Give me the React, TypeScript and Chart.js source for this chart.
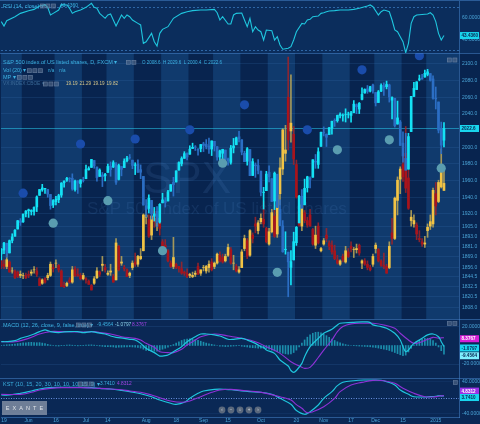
import React, { useEffect, useRef } from "react";
import { Chart, registerables } from "chart.js";

Chart.register(...registerables);

const FONT = "'Liberation Sans', Arial, sans-serif";
const PAGE_BG = "#0a2754";
const MAIN_BG = "#08244f";
const BAND_LIGHT = "#103a6d";
const RSI_BG = "#0b2d5c";
const SUB_BG = "#0a2855";
const TICK = "#4aa3d6";
const LEG = "#3cb2e2";
const SEP = "rgba(70,130,200,0.55)";
const GRID = "rgba(70,130,200,0.16)";
const CYAN = "#1fc6de";
const PURPLE = "#8e32d6";
const AXIS_W = 21;
const X_MIN = -0.1;
const X_MAX = 167.5;

// ---------- categories: trading sessions ----------
const MONTH_NAMES = ["May", "Jun", "Jul", "Aug", "Sep", "Oct", "Nov", "Dec", "Jan"];
const MONTH_DAYS = [
  [16, 19, 20, 21, 22, 23, 27, 28, 29, 30],
  [2, 3, 4, 5, 6, 9, 10, 11, 12, 13, 16, 17, 18, 19, 20, 23, 24, 25, 26, 27, 30],
  [1, 2, 3, 7, 8, 9, 10, 11, 14, 15, 16, 17, 18, 21, 22, 23, 24, 25, 28, 29, 30, 31],
  [1, 4, 5, 6, 7, 8, 11, 12, 13, 14, 15, 18, 19, 20, 21, 22, 25, 26, 27, 28, 29],
  [2, 3, 4, 5, 8, 9, 10, 11, 12, 15, 16, 17, 18, 19, 22, 23, 24, 25, 26, 29, 30],
  [1, 2, 3, 6, 7, 8, 9, 10, 13, 14, 15, 16, 17, 20, 21, 22, 23, 24, 27, 28, 29, 30, 31],
  [3, 4, 5, 6, 7, 10, 11, 12, 13, 14, 17, 18, 19, 20, 21, 24, 25, 26, 28],
  [1, 2, 3, 4, 5, 8, 9, 10, 11, 12, 15, 16, 17, 18, 19, 22, 23, 24, 26, 29, 30, 31],
  [2, 5, 6, 7],
];
const DATES: string[] = [];
MONTH_NAMES.forEach((m, k) => MONTH_DAYS[k].forEach((d) => DATES.push(`${m} ${d}`)));

const X_TICK_DATES = ["May 19", "Jun 2", "Jun 16", "Jul 1", "Jul 14", "Aug 1", "Aug 18", "Sep 2", "Sep 15", "Oct 1", "Oct 20", "Nov 3", "Nov 17", "Dec 1", "Dec 15", "Jan 2"];
const X_TICK_LABELS = ["19", "Jun", "16", "Jul", "14", "Aug", "18", "Sep", "15", "Oct", "20", "Nov", "17", "Dec", "15", "2015"];

// light background bands (session index ranges)
const LIGHT_BANDS = [[-0.5, 7.5], [19.5, 29.5], [38.5, 48.5], [58.5, 68.5], [77.5, 87.5], [97.5, 107.5], [117.5, 127.5], [136.5, 146.5], [155.5, 167.5]];

// ---------- S&P 500 (FXCM) ----------
const SPX_O = [
  1872.0, 1876.7, 1884.9, 1873.3, 1888.2, 1893.3, 1902.0, 1911.8, 1910.6, 1920.3,
  1923.9, 1923.1, 1923.1, 1928.5, 1942.4, 1948.9, 1950.3, 1949.4, 1943.4, 1930.8,
  1934.8, 1937.2, 1942.7, 1957.5, 1960.5, 1962.9, 1962.8, 1949.3, 1959.9, 1956.6,
  1960.8, 1962.3, 1973.1, 1975.9, 1984.2, 1976.4, 1965.1, 1966.7, 1965.8, 1969.9,
  1977.4, 1976.4, 1979.8, 1961.5, 1976.9, 1975.7, 1984.0, 1988.1, 1984.6, 1978.3,
  1980.0, 1973.2, 1965.1, 1929.8, 1926.6, 1936.3, 1917.3, 1923.0, 1910.4, 1933.4,
  1935.7, 1935.6, 1947.4, 1958.0, 1958.4, 1972.7, 1980.5, 1986.8, 1992.6, 1991.7,
  1998.6, 2000.5, 1997.4, 1998.5, 2004.1, 2003.6, 2001.7, 1998.0, 2007.2, 2000.7,
  1988.4, 1992.9, 1996.7, 1986.0, 1981.9, 1999.3, 2003.1, 2012.7, 2009.1, 1992.8,
  1983.3, 1997.3, 1966.2, 1978.9, 1978.2, 1971.4, 1945.8, 1948.0, 1970.0, 1962.4,
  1935.6, 1967.7, 1925.6, 1905.7, 1877.1, 1874.2, 1855.9, 1864.9, 1885.6, 1909.4,
  1941.3, 1931.0, 1951.6, 1963.0, 1964.1, 1983.3, 1979.5, 2001.2, 2018.2, 2015.8,
  2015.3, 2023.3, 2032.4, 2032.0, 2038.2, 2037.8, 2039.2, 2039.7, 2038.3, 2041.5,
  2051.2, 2045.9, 2057.5, 2065.1, 2070.2, 2067.4, 2074.8, 2065.8, 2053.8, 2067.5,
  2073.6, 2072.8, 2074.8, 2056.6, 2058.9, 2027.9, 2030.4, 2005.0, 1986.7, 1973.8,
  2018.9, 2061.0, 2069.3, 2081.5, 2083.3, 2084.3, 2087.6, 2088.5, 2082.1, 2058.9,
  2054.4, 2022.2, 2008.6,
];
const SPX_H = [
  1878.5, 1886.0, 1884.9, 1888.8, 1896.3, 1901.3, 1912.3, 1914.5, 1920.0, 1924.0,
  1925.9, 1925.1, 1928.6, 1941.7, 1949.4, 1955.6, 1950.9, 1949.4, 1943.4, 1937.3,
  1941.2, 1943.7, 1957.7, 1959.9, 1963.9, 1963.7, 1968.2, 1960.8, 1959.9, 1961.0,
  1964.2, 1978.6, 1976.7, 1985.6, 1984.2, 1976.4, 1974.2, 1969.8, 1968.7, 1979.9,
  1982.5, 1983.9, 1981.8, 1979.9, 1976.9, 1986.2, 1989.2, 1991.4, 1984.6, 1981.5,
  1984.9, 1978.9, 1965.1, 1937.4, 1942.9, 1936.3, 1927.9, 1928.9, 1932.4, 1944.9,
  1939.7, 1948.4, 1955.2, 1964.0, 1971.9, 1982.6, 1988.6, 1994.8, 1993.5, 2001.9,
  2005.0, 2002.1, 1998.6, 2003.4, 2006.1, 2009.3, 2011.2, 2007.7, 2007.2, 2001.0,
  1996.7, 1997.7, 1996.7, 1987.2, 2002.3, 2010.7, 2012.3, 2019.3, 2009.1, 1995.4,
  1999.8, 1997.3, 1986.4, 1981.3, 1985.2, 1971.4, 1952.0, 1971.2, 1977.8, 1962.4,
  1970.4, 1967.7, 1936.9, 1912.1, 1898.7, 1874.2, 1876.0, 1898.2, 1905.0, 1942.5,
  1949.3, 1961.9, 1965.3, 1964.6, 1985.1, 1991.4, 1999.4, 2018.2, 2024.5, 2016.0,
  2023.8, 2031.6, 2034.3, 2038.7, 2041.3, 2040.3, 2046.2, 2042.2, 2043.1, 2056.1,
  2052.1, 2053.8, 2071.5, 2070.2, 2074.2, 2073.3, 2075.8, 2065.8, 2068.2, 2076.3,
  2077.3, 2079.5, 2075.8, 2060.6, 2058.9, 2055.5, 2032.2, 2018.7, 2016.9, 2016.8,
  2061.2, 2077.9, 2078.8, 2086.7, 2087.6, 2092.7, 2093.6, 2088.5, 2085.7, 2072.4,
  2054.4, 2030.3, 2029.6,
];
const SPX_L = [
  1864.8, 1872.4, 1868.1, 1873.3, 1885.4, 1893.3, 1902.0, 1906.3, 1909.8, 1916.6,
  1915.9, 1918.8, 1918.6, 1922.9, 1942.4, 1947.2, 1944.6, 1940.1, 1925.8, 1927.7,
  1930.9, 1933.6, 1940.0, 1952.3, 1959.2, 1958.4, 1948.5, 1947.5, 1944.7, 1952.2,
  1958.3, 1962.3, 1972.6, 1975.9, 1974.9, 1959.5, 1965.1, 1952.9, 1959.6, 1969.9,
  1965.3, 1975.7, 1955.6, 1960.8, 1965.8, 1975.7, 1982.4, 1985.8, 1974.4, 1967.3,
  1969.9, 1962.4, 1930.7, 1916.4, 1921.2, 1913.8, 1911.5, 1904.8, 1909.0, 1933.4,
  1928.3, 1935.6, 1947.4, 1941.5, 1958.4, 1972.7, 1977.7, 1986.8, 1984.8, 1991.7,
  1998.6, 1996.2, 1990.5, 1994.6, 1994.9, 1998.1, 1992.8, 1990.1, 1995.6, 1984.6,
  1982.9, 1985.9, 1980.3, 1978.5, 1979.8, 1993.3, 2003.1, 2006.6, 1991.0, 1982.8,
  1978.6, 1965.9, 1966.2, 1964.0, 1968.0, 1941.7, 1926.0, 1948.0, 1958.4, 1935.1,
  1925.3, 1927.6, 1906.1, 1874.1, 1871.8, 1820.7, 1835.0, 1864.9, 1882.3, 1909.4,
  1927.1, 1931.0, 1946.3, 1951.4, 1964.1, 1974.8, 1974.8, 2001.2, 2013.7, 2001.0,
  2015.3, 2015.9, 2025.1, 2030.2, 2035.3, 2031.3, 2030.4, 2035.2, 2030.2, 2041.5,
  2040.4, 2040.5, 2056.8, 2065.1, 2064.8, 2066.4, 2065.1, 2049.6, 2053.8, 2066.7,
  2062.3, 2070.1, 2054.3, 2034.2, 2024.3, 2027.9, 2002.3, 1982.3, 1972.6, 1973.8,
  2018.9, 2061.0, 2069.3, 2079.8, 2081.9, 2084.3, 2085.8, 2079.5, 2057.9, 2046.0,
  2017.3, 1992.4, 2000.4,
];
const SPX_C = [
  1877.9, 1885.1, 1872.8, 1888.0, 1892.5, 1900.5, 1911.9, 1909.8, 1920.0, 1923.6,
  1925.0, 1924.2, 1927.9, 1940.5, 1949.4, 1951.3, 1950.8, 1943.9, 1930.1, 1936.2,
  1937.8, 1942.0, 1957.0, 1959.5, 1962.9, 1962.6, 1950.0, 1959.5, 1957.2, 1961.0,
  1960.2, 1973.3, 1974.6, 1985.4, 1977.7, 1963.7, 1972.8, 1964.7, 1967.6, 1977.1,
  1973.3, 1981.6, 1958.1, 1978.2, 1973.6, 1983.5, 1987.0, 1988.0, 1978.3, 1978.9,
  1970.0, 1970.1, 1930.7, 1925.2, 1939.0, 1920.2, 1920.2, 1909.6, 1931.6, 1936.9,
  1933.8, 1946.7, 1955.2, 1955.1, 1971.7, 1981.6, 1986.5, 1992.4, 1988.4, 1997.9,
  2000.0, 2000.1, 1996.7, 2003.4, 2002.3, 2000.7, 1997.7, 2007.7, 2001.5, 1988.4,
  1995.7, 1997.5, 1985.5, 1984.1, 1999.0, 2001.6, 2011.4, 2010.4, 1994.3, 1982.8,
  1998.3, 1966.0, 1982.9, 1977.8, 1972.3, 1946.2, 1946.2, 1967.9, 1964.8, 1935.1,
  1968.9, 1928.2, 1906.1, 1874.7, 1877.7, 1862.5, 1862.8, 1886.8, 1904.0, 1941.3,
  1927.1, 1950.8, 1964.6, 1961.6, 1985.1, 1982.3, 1994.7, 2018.1, 2017.8, 2012.1,
  2023.6, 2031.2, 2031.9, 2038.3, 2039.7, 2038.3, 2039.3, 2039.8, 2041.3, 2051.8,
  2048.7, 2052.8, 2063.5, 2069.4, 2067.0, 2072.8, 2067.6, 2053.4, 2066.6, 2074.3,
  2071.9, 2075.4, 2060.3, 2059.8, 2026.1, 2035.3, 2002.3, 1989.6, 1972.7, 2012.9,
  2061.2, 2070.7, 2078.5, 2082.2, 2081.9, 2088.8, 2090.6, 2080.4, 2058.9, 2058.2,
  2020.6, 2002.6, 2022.6,
];

// ---------- VX (CBOE) overlay ----------
const VIX_O = [
  12.9, 12.6, 12.4, 12.8, 12.0, 12.0, 11.9, 11.6, 11.6, 11.6,
  11.7, 11.8, 12.1, 12.0, 11.3, 10.9, 11.3, 11.4, 11.6, 12.3,
  12.7, 12.5, 12.0, 10.7, 10.7, 11.2, 11.0, 12.2, 11.7, 11.6,
  11.3, 11.3, 11.1, 10.7, 10.9, 11.4, 11.9, 12.5, 12.3, 11.7,
  11.9, 11.5, 11.2, 14.2, 12.7, 12.3, 12.1, 11.6, 12.3, 12.8,
  12.6, 13.1, 13.8, 16.8, 16.6, 15.2, 17.3, 16.0, 16.7, 14.6,
  14.3, 13.8, 12.7, 12.4, 12.6, 12.4, 12.2, 11.9, 11.8, 11.6,
  11.5, 11.7, 12.4, 11.8, 12.3, 12.0, 12.3, 12.8, 12.4, 12.7,
  13.4, 13.2, 12.9, 13.4, 13.9, 12.7, 12.4, 11.9, 12.3, 14.0,
  14.7, 13.4, 15.2, 16.2, 15.6, 16.4, 16.6, 15.8, 14.4, 15.5,
  16.9, 15.3, 18.9, 21.1, 22.5, 27.5, 24.5, 24.2, 21.5, 17.3,
  16.0, 17.2, 16.5, 17.0, 15.7, 14.3, 16.0, 13.8, 14.4, 15.2,
  14.5, 14.3, 13.8, 13.0, 12.6, 13.3, 12.8, 13.7, 14.2, 13.9,
  13.9, 14.3, 12.7, 12.9, 12.6, 12.3, 12.6, 14.0, 13.9, 12.9,
  12.5, 12.4, 12.3, 15.4, 14.9, 18.3, 20.2, 21.5, 22.5, 20.3,
  16.5, 16.2, 16.1, 14.9, 14.6, 14.4, 15.6, 16.0, 16.2, 18.9,
  18.2, 19.5, 19.19,
];
const VIX_H = [
  13.2, 13.0, 13.5, 12.9, 12.3, 12.1, 12.0, 12.0, 11.8, 11.8,
  12.0, 12.1, 12.4, 12.3, 11.4, 11.3, 11.4, 11.8, 12.8, 12.6,
  13.0, 12.6, 12.1, 11.0, 11.0, 11.4, 12.4, 12.4, 12.2, 11.8,
  11.8, 11.4, 11.2, 10.8, 11.5, 12.3, 12.0, 13.3, 12.6, 12.0,
  12.6, 11.7, 14.9, 14.3, 13.3, 12.5, 12.2, 11.9, 12.9, 13.6,
  13.4, 14.0, 17.1, 17.6, 17.0, 17.0, 17.5, 17.3, 16.8, 14.8,
  14.8, 13.9, 12.9, 15.0, 12.7, 12.4, 12.8, 12.0, 12.2, 11.8,
  11.9, 12.0, 12.7, 12.1, 12.5, 12.5, 12.9, 13.1, 12.8, 13.6,
  13.7, 13.5, 13.5, 14.4, 14.1, 13.4, 12.6, 12.4, 13.9, 15.2,
  14.9, 15.7, 15.4, 16.8, 16.5, 17.1, 18.2, 15.9, 15.8, 17.5,
  17.9, 18.9, 22.1, 24.7, 25.0, 31.1, 29.5, 24.9, 21.9, 17.9,
  18.0, 17.4, 16.8, 17.5, 15.8, 16.0, 16.3, 14.1, 14.9, 15.8,
  14.7, 14.7, 14.3, 13.4, 13.0, 13.5, 14.2, 14.0, 14.6, 14.1,
  14.4, 14.4, 13.0, 13.1, 12.9, 12.5, 13.5, 14.5, 14.0, 13.0,
  13.6, 12.6, 14.6, 16.7, 18.6, 20.4, 21.3, 23.0, 24.9, 21.0,
  17.4, 17.0, 16.3, 15.6, 14.9, 15.1, 16.2, 17.0, 19.4, 19.9,
  20.1, 22.9, 21.29,
];
const VIX_L = [
  12.2, 12.2, 12.2, 11.9, 11.8, 11.3, 11.4, 11.4, 11.3, 11.3,
  11.4, 11.6, 11.8, 11.5, 10.7, 10.8, 10.9, 11.2, 11.5, 11.9,
  12.3, 11.9, 10.6, 10.5, 10.6, 10.9, 10.9, 11.5, 11.5, 11.2,
  11.2, 10.9, 10.8, 10.3, 10.8, 11.3, 11.5, 12.0, 11.9, 11.6,
  11.6, 11.0, 11.2, 12.0, 12.5, 12.0, 11.5, 11.4, 12.1, 12.4,
  12.4, 13.0, 13.8, 16.2, 15.0, 14.8, 15.9, 15.6, 15.2, 14.1,
  13.9, 12.8, 12.3, 12.2, 12.2, 11.9, 11.7, 11.6, 11.4, 11.4,
  11.4, 11.5, 11.7, 11.6, 12.0, 11.8, 11.9, 12.0, 12.2, 12.6,
  12.8, 12.7, 12.8, 13.3, 12.6, 12.1, 11.9, 11.8, 12.3, 13.8,
  13.1, 13.3, 14.5, 15.4, 15.3, 16.2, 15.9, 14.5, 14.3, 15.4,
  15.0, 15.0, 17.9, 20.6, 21.8, 22.8, 23.5, 21.5, 18.5, 16.0,
  15.6, 16.3, 15.9, 16.0, 14.3, 14.0, 14.4, 13.7, 14.3, 14.6,
  13.9, 13.5, 13.0, 12.6, 12.5, 12.8, 12.7, 13.2, 13.7, 13.2,
  13.6, 13.4, 12.2, 12.5, 12.1, 12.0, 12.4, 13.6, 12.8, 12.4,
  12.2, 11.8, 12.2, 14.4, 14.8, 17.0, 18.9, 20.0, 19.0, 17.5,
  16.0, 15.9, 14.8, 14.6, 14.2, 14.1, 15.0, 15.7, 15.9, 17.0,
  18.1, 19.4, 19.19,
];
const VIX_C = [
  12.4, 12.4, 13.0, 11.9, 12.0, 11.4, 11.5, 11.7, 11.6, 11.4,
  11.6, 11.9, 12.1, 11.7, 10.7, 11.2, 11.0, 11.6, 12.6, 12.2,
  12.7, 12.1, 10.6, 10.6, 10.9, 11.0, 12.1, 11.6, 11.6, 11.3,
  11.6, 11.2, 10.8, 10.3, 11.3, 12.0, 11.7, 12.6, 12.1, 11.8,
  12.0, 11.0, 14.5, 12.1, 12.8, 12.2, 11.5, 11.8, 12.7, 12.6,
  13.3, 13.3, 17.0, 17.0, 15.1, 16.9, 16.4, 16.7, 15.8, 14.2,
  14.1, 12.9, 12.4, 13.2, 12.3, 12.2, 11.8, 11.8, 11.5, 11.7,
  11.6, 11.8, 11.7, 12.1, 12.3, 12.4, 12.6, 12.1, 12.7, 13.5,
  12.9, 12.8, 13.3, 14.1, 12.7, 12.7, 12.0, 12.1, 13.7, 14.9,
  13.3, 15.6, 14.9, 16.0, 16.3, 16.7, 16.2, 14.6, 15.5, 17.2,
  15.1, 18.8, 21.2, 24.6, 22.8, 23.7, 25.2, 22.0, 18.6, 16.1,
  17.9, 16.5, 16.1, 16.0, 14.4, 15.2, 14.5, 14.0, 14.7, 14.9,
  14.2, 13.7, 13.1, 12.7, 12.9, 13.0, 13.8, 13.3, 14.0, 13.9,
  14.0, 13.6, 12.9, 12.6, 12.3, 12.1, 13.3, 14.3, 12.9, 12.5,
  12.4, 11.8, 14.2, 14.9, 18.5, 20.1, 21.1, 20.4, 19.4, 17.6,
  16.8, 16.5, 15.3, 14.8, 14.4, 14.5, 15.9, 16.4, 19.2, 17.8,
  19.9, 21.1, 19.82,
];

// MP markers
const MP_HIGH_IDX = [8, 29, 49, 69, 89, 112, 132, 153];
const MP_HIGH_VAL = [1945, 2004, 2010, 2021, 2051, 2021, 2093, 2110];
const MP_LOW_IDX = [19, 39, 59, 81, 101, 123, 142, 161];
const MP_LOW_VAL = [1909, 1936, 1876, 1981, 1850, 1997, 2009, 1975];

const MAIN_TICKS = [2100, 2080, 2060, 2040, 2000, 1980, 1960, 1940, 1920, 1905, 1893, 1881, 1869, 1856, 1844.5, 1832.5, 1820.5, 1808];

// ---------- RSI (14, close) ----------
const RSI_X = [0, 1, 2, 5, 7, 10, 12, 14, 16, 17, 18, 19, 21, 22, 24, 25, 26, 27, 29, 31, 33, 34, 35, 36, 38, 39, 40, 41, 42, 44, 45, 46, 47, 48, 50, 51, 52, 53, 55, 56, 57, 58, 59, 61, 63, 66, 68, 70, 73, 75, 78, 79, 80, 81, 83, 84, 85, 86, 88, 89, 90, 91, 92, 93, 94, 95, 96, 97, 99, 100, 101, 102, 103, 105, 106, 107, 108, 110, 111, 112, 113, 114, 116, 117, 118, 119, 120, 122, 124, 127, 129, 131, 134, 135, 136, 138, 139, 140, 141, 142, 143, 144, 145, 146, 147, 148, 149, 150, 151, 152, 156, 157, 158, 159, 160, 161, 162];
const RSI_V = [56.4, 52.3, 57.3, 61.0, 64.1, 66.6, 67.8, 70.9, 72.2, 69.7, 62.6, 64.1, 67.2, 72.2, 71.9, 68.8, 64.1, 65.6, 67.2, 69.7, 73.4, 69.7, 68.8, 64.1, 59.5, 62.6, 63.5, 57.9, 52.3, 62.6, 59.5, 62.6, 61.0, 57.9, 54.8, 53.3, 36.2, 37.7, 45.5, 37.7, 33.7, 45.5, 49.2, 51.7, 59.5, 64.1, 65.6, 66.6, 67.2, 67.2, 67.8, 64.7, 57.9, 61.0, 54.2, 54.2, 62.6, 64.1, 64.4, 57.9, 51.7, 59.5, 47.0, 51.7, 48.6, 47.0, 39.3, 48.6, 48.0, 39.3, 42.4, 34.7, 30.7, 31.6, 33.1, 39.3, 47.0, 54.8, 54.2, 57.9, 58.5, 61.0, 61.6, 64.1, 64.7, 65.6, 66.3, 66.6, 67.2, 67.2, 67.8, 68.8, 70.9, 71.9, 70.3, 62.6, 65.6, 67.2, 66.6, 65.6, 57.9, 48.6, 47.0, 42.4, 37.7, 27.5, 36.2, 54.8, 61.0, 62.6, 63.5, 64.7, 62.6, 56.4, 45.5, 39.3, 43.436];
const RSI_TICKS = [60, 40];

// ---------- MACD (12, 26, close, 9) ----------
const MACD_X = [0, 2, 5, 7, 10, 12, 14, 16, 17, 18, 21, 23, 25, 28, 30, 33, 35, 38, 40, 42, 45, 47, 49, 51, 53, 56, 58, 60, 61, 63, 66, 68, 71, 73, 75, 78, 80, 83, 85, 88, 90, 93, 95, 96, 97, 100, 102, 105, 106, 107, 108, 110, 111, 113, 116, 118, 121, 123, 124, 127, 129, 132, 134, 135, 136, 139, 141, 144, 146, 147, 148, 149, 150, 151, 154, 156, 158, 160, 161, 162];
const MACD_V = [4.1, 4.1, 5.2, 7.7, 10.3, 12.4, 15.0, 16.8, 16.0, 15.0, 13.9, 14.6, 15.0, 15.0, 13.9, 15.0, 13.9, 12.4, 10.3, 8.8, 7.7, 6.7, 5.9, 2.3, -3.1, -7.7, -11.4, -11.0, -10.3, -6.7, -1.3, 4.1, 9.5, 12.4, 12.4, 11.4, 10.3, 6.7, 6.7, 7.7, 5.9, 2.3, -1.3, -2.0, -4.9, -8.5, -15.7, -22.2, -27.0, -29.0, -27.0, -19.3, -12.1, -1.3, 7.7, 13.2, 17.5, 22.2, 24.0, 24.7, 25.0, 25.4, 25.4, 24.7, 22.2, 20.4, 18.6, 13.2, 5.9, -1.3, -6.7, -4.9, -1.0, 2.3, 7.7, 11.4, 12.4, 9.5, 4.1, -1.0797];
const SIG_X = [0, 5, 10, 14, 18, 22, 27, 32, 34, 36, 40, 44, 49, 51, 53, 56, 58, 61, 63, 66, 68, 71, 73, 78, 83, 88, 93, 97, 102, 106, 110, 111, 113, 116, 118, 121, 123, 125, 128, 132, 136, 140, 144, 146, 149, 151, 154, 156, 158, 160, 161, 162];
const SIG_V = [4.1, 4.1, 7.7, 12.4, 15.0, 15.0, 14.6, 14.6, 15.0, 13.9, 12.4, 9.5, 7.7, 5.9, 2.3, -2.0, -6.7, -7.7, -7.7, -4.1, 0.5, 5.9, 9.5, 12.4, 10.3, 7.7, 4.1, -1.3, -8.5, -17.5, -23.6, -24.7, -23.6, -13.0, -5.0, 5.9, 15.0, 20.4, 23.3, 24.0, 24.0, 22.2, 18.6, 13.2, 5.9, 2.3, 4.1, 6.7, 8.8, 8.0, 8.2, 8.3767];
const HIST = [
  0.3, 0.5, 0.8, 1.0, 1.2,
  1.6, 2.0, 2.4, 2.8, 3.0, 3.3, 3.4, 3.2, 3.0, 3.1, 2.6, 2.0, 1.2, 0.5,
  0.0, -0.4, -0.6, -0.2, 0.2, 0.4, 0.6, 0.3, -0.2, -0.4, -0.2, 0.2,
  0.5, 0.6, 0.7, 0.4, -0.1, -0.5, -0.9, -1.2, -1.2, -1.4,
  -1.6, -2.0, -1.8, -1.8, -1.6, -1.6, -1.4, -1.6, -1.8, -2.0,
  -2.8, -4.0, -5.2, -5.6, -6.0, -6.2, -6.0, -5.0,
  -4.0, -3.0, -1.8, -0.5,
  1.0, 2.6, 4.0, 5.4, 6.4, 7.0, 7.2, 7.0, 6.4, 5.6,
  4.6, 3.6, 2.6, 1.8, 1.2, 0.6, 0.0, -0.6, -0.8, -1.2, -1.0, -0.8, -0.6, -0.4, -0.2,
  -0.8, -1.2, -1.6, -2.2, -2.4, -2.6, -2.8, -3.0, -3.2, -3.4, -4.0, -5.0,
  -5.8, -6.8, -7.6, -8.4, -9.0, -9.4, -9.0, -7.6, -5.0, -1.6,
  2.6, 6.0, 9.0, 11.6, 13.2, 14.2, 14.4, 13.6, 12.2, 10.6, 8.8, 7.0,
  5.4, 4.0, 2.8, 1.8, 1.0, 0.4, 0.0, -0.2, -0.4, -0.6, -0.8,
  -1.0, -1.2, -1.4, -1.8, -2.2, -2.8, -3.4, -4.0, -4.6, -5.4, -6.4, -7.6, -8.8, -10.0, -11.0, -10.4, -7.0,
  -3.0, 0.8, 3.6, 5.6, 6.8, 7.6, 7.8, 7.0, 5.4, 2.6, -1.6, -5.6, -9.4564,
];
const MACD_TICKS = [20, -20];

// ---------- KST ----------
const KST_X = [0, 3, 7, 11, 14, 18, 22, 25, 29, 33, 36, 40, 44, 47, 51, 55, 58, 62, 64, 67, 69, 72, 74, 78, 82, 85, 88, 91, 95, 99, 102, 106, 108, 111, 113, 116, 118, 121, 123, 125, 129, 133, 136, 139, 141, 144, 146, 149, 151, 155, 157, 159, 160, 161, 162];
const KST_V = [6.3, 6.3, 10.5, 16.5, 21.5, 24.9, 25.7, 25.7, 25.7, 24.9, 23.2, 21.5, 18.1, 14.8, 9.7, 2.1, -6.3, -14.8, -17.3, -12.2, -2.1, 10.5, 16.5, 20.7, 20.7, 19.0, 16.5, 14.8, 13.1, 8.0, -2.1, -17.0, -33.0, -42.6, -35.9, -19.0, -2.1, 14.8, 29.9, 38.4, 42.6, 44.3, 44.3, 43.5, 40.1, 31.6, 19.0, 8.0, 2.1, 1.3, 2.1, 3.2, 4.6, 4.0, 3.741];
const KSIG_X = [0, 7, 11, 14, 18, 22, 29, 33, 36, 40, 44, 47, 51, 55, 58, 62, 66, 69, 73, 77, 80, 84, 88, 93, 97, 102, 106, 108, 110, 112, 114, 118, 122, 124, 128, 132, 136, 140, 144, 147, 151, 155, 158, 160, 161, 162];
const KSIG_V = [8.0, 8.0, 13.1, 19.0, 23.2, 24.9, 24.9, 24.1, 23.2, 21.5, 19.8, 16.5, 13.1, 6.3, -0.4, -8.9, -12.2, -8.9, 2.1, 13.1, 19.0, 20.7, 18.1, 14.8, 10.5, 2.1, -6.3, -18.0, -27.4, -38.4, -35.9, -23.2, -2.1, 14.8, 31.6, 38.4, 43.5, 42.6, 35.9, 23.2, 10.5, 2.1, 1.3, 3.0, 4.2, 4.8312];
const KST_TICKS = [40, -40];

// ---------- helpers ----------
const IDX = DATES.map((_, i) => i);
const LAST = DATES.length - 1;
const pts = (xs: number[], ys: number[]) => xs.map((x, i) => ({ x, y: ys[i] }));

function icons(ctx: any, x: number, y: number, n: number) {
  for (let k = 0; k < n; k++) {
    const xx = x + k * 5.6;
    ctx.fillStyle = "rgba(95,115,145,0.55)";
    ctx.fillRect(xx, y - 2.3, 4.6, 4.6);
    ctx.strokeStyle = "rgba(150,170,200,0.45)";
    ctx.lineWidth = 0.6;
    ctx.strokeRect(xx + 0.3, y - 2, 4, 4);
  }
}
function box(ctx: any, y: number, text: string, bg: string, fg: string) {
  ctx.fillStyle = bg;
  ctx.fillRect(460, y - 3.5, 19, 7);
  ctx.fillStyle = fg;
  ctx.font = `bold 4.6px ${FONT}`;
  ctx.textAlign = "left";
  ctx.textBaseline = "middle";
  ctx.fillText(text, 461.5, y + 0.3);
}
function text(ctx: any, s: string, x: number, y: number, color: string, size = 5.5) {
  ctx.font = `${size}px ${FONT}`;
  ctx.fillStyle = color;
  ctx.textAlign = "left";
  ctx.textBaseline = "middle";
  ctx.fillText(s, x, y);
}

function yAxis(min: number, max: number, ticks: number[], fmt: (v: number) => string, grid: string) {
  return {
    position: "right",
    min,
    max,
    afterFit: (s: any) => {
      s.width = AXIS_W;
      s.paddingTop = 0;
      s.paddingBottom = 0;
    },
    afterBuildTicks: (s: any) => {
      s.ticks = ticks.map((v) => ({ value: v }));
    },
    ticks: { color: TICK, font: { family: FONT, size: 5 }, padding: 3, autoSkip: false, callback: (v: any) => fmt(Number(v)) },
    grid: { color: grid, drawTicks: false, lineWidth: 1 },
    border: { display: true, color: SEP, width: 1 },
  };
}
const xHidden = { type: "linear", min: X_MIN, max: X_MAX, display: false, offset: false };
function baseOptions(scales: any, top = 0) {
  return {
    animation: false,
    responsive: false,
    maintainAspectRatio: false,
    events: [],
    layout: { autoPadding: false, padding: { left: 1, right: 0, top, bottom: 0 } },
    plugins: { legend: { display: false }, tooltip: { enabled: false } },
    scales,
  };
}
function fillBg(chart: any, color: string) {
  const ctx = chart.ctx;
  ctx.save();
  ctx.fillStyle = color;
  ctx.fillRect(0, 0, chart.width, chart.height);
  ctx.restore();
}
function topLine(chart: any) {
  const ctx = chart.ctx;
  ctx.save();
  ctx.strokeStyle = SEP;
  ctx.lineWidth = 1;
  ctx.beginPath();
  ctx.moveTo(0, 0.5);
  ctx.lineTo(chart.width, 0.5);
  ctx.stroke();
  ctx.restore();
}

// ---------- configs ----------
function rsiConfig(): any {
  return {
    type: "line",
    data: {
      datasets: [
        { data: pts(RSI_X, RSI_V), borderColor: CYAN, borderWidth: 1.1, pointRadius: 0, tension: 0, yAxisID: "y" },
      ],
    },
    options: baseOptions({ x: xHidden, y: yAxis(27.2, 75.6, RSI_TICKS, (v) => v.toFixed(4), "rgba(0,0,0,0)") }, 1),
    plugins: [
      {
        id: "rsiDeco",
        beforeDraw: (c: any) => fillBg(c, RSI_BG),
        beforeDatasetsDraw: (c: any) => {
          const { ctx, chartArea: a, scales } = c;
          ctx.save();
          ctx.strokeStyle = "rgba(70,140,215,0.6)";
          ctx.setLineDash([2, 2]);
          ctx.lineWidth = 1;
          [70, 30].forEach((v) => {
            const y = Math.round(scales.y.getPixelForValue(v)) + 0.5;
            ctx.beginPath();
            ctx.moveTo(a.left, y);
            ctx.lineTo(a.right, y);
            ctx.stroke();
          });
          ctx.restore();
        },
        afterDraw: (c: any) => {
          const ctx = c.ctx;
          ctx.save();
          topLine(c);
          const last = RSI_V[RSI_V.length - 1];
          text(ctx, "RSI (14, close) \u25BE", 3, 6, LEG);
          icons(ctx, 40, 6, 3);
          text(ctx, last.toFixed(4), 60, 6, LEG, 5);
          box(ctx, c.scales.y.getPixelForValue(last), last.toFixed(4), "#19d6ee", "#08244f");
          ctx.restore();
        },
      },
    ],
  };
}

function mainConfig(): any {
  const spxUp = IDX.map((i) => SPX_C[i] >= SPX_O[i]);
  const vixUp = IDX.map((i) => VIX_C[i] >= VIX_O[i]);
  const common = { grouped: false, borderWidth: 0, borderSkipped: false };
  return {
    type: "bar",
    data: {
      datasets: [
        { type: "scatter", data: pts(MP_HIGH_IDX, MP_HIGH_VAL), pointRadius: 4.6, backgroundColor: "#1a4cab", borderWidth: 0, yAxisID: "y", order: 0 },
        { type: "scatter", data: pts(MP_LOW_IDX, MP_LOW_VAL), pointRadius: 4.6, backgroundColor: "#5a9db0", borderWidth: 0, yAxisID: "y", order: 0 },
        { ...common, data: IDX.map((i) => ({ x: i, y: [SPX_O[i], SPX_C[i]] })), backgroundColor: IDX.map((i) => (spxUp[i] ? "#14e2f5" : "#2b6ec4")), barThickness: 2, yAxisID: "y", order: 2 },
        { ...common, data: IDX.map((i) => ({ x: i, y: [SPX_L[i], SPX_H[i]] })), backgroundColor: IDX.map((i) => (spxUp[i] ? "#14e2f5" : "#2b6ec4")), barThickness: 1, yAxisID: "y", order: 3 },
        { ...common, data: IDX.map((i) => ({ x: i, y: [VIX_O[i], VIX_C[i]] })), backgroundColor: IDX.map((i) => (vixUp[i] ? "#f2c344" : "#a8141c")), barThickness: 2, yAxisID: "yv", order: 4 },
        { ...common, data: IDX.map((i) => ({ x: i, y: [VIX_L[i], VIX_H[i]] })), backgroundColor: IDX.map((i) => (vixUp[i] ? "rgba(200,175,85,0.8)" : "rgba(160,35,40,0.85)")), barThickness: 1, yAxisID: "yv", order: 5 },
      ],
    },
    options: baseOptions({
      x: xHidden,
      y: yAxis(1794, 2113.2, MAIN_TICKS, (v) => v.toFixed(1), GRID),
      yv: { display: false, min: 7.71, max: 31.46 },
    }),
    plugins: [
      {
        id: "mainDeco",
        beforeDraw: (c: any) => {
          fillBg(c, MAIN_BG);
          const { ctx, chartArea: a, scales } = c;
          ctx.save();
          ctx.fillStyle = BAND_LIGHT;
          LIGHT_BANDS.forEach(([s, e]) => {
            const x1 = Math.max(a.left, scales.x.getPixelForValue(s));
            const x2 = Math.min(a.right, scales.x.getPixelForValue(e));
            if (x2 > x1) ctx.fillRect(x1, a.top, x2 - x1, a.bottom - a.top);
          });
          ctx.restore();
        },
        beforeDatasetsDraw: (c: any) => {
          const { ctx, chartArea: a, scales } = c;
          ctx.save();
          ctx.fillStyle = "rgba(95,155,225,0.12)";
          ctx.textAlign = "left";
          ctx.textBaseline = "alphabetic";
          ctx.font = `44px ${FONT}`;
          ctx.fillText("SPX", 143, 140);
          ctx.font = `17px ${FONT}`;
          ctx.fillText("S&P 500 index of US listed shares", 87, 161);
          const y = Math.round(scales.y.getPixelForValue(SPX_C[LAST])) + 0.5;
          ctx.strokeStyle = "rgba(40,200,235,0.55)";
          ctx.lineWidth = 1;
          ctx.beginPath();
          ctx.moveTo(a.left, y);
          ctx.lineTo(a.right, y);
          ctx.stroke();
          ctx.restore();
        },
        afterDraw: (c: any) => {
          const ctx = c.ctx;
          ctx.save();
          topLine(c);
          text(ctx, "S&P 500 index of US listed shares, D, FXCM \u25BE", 3, 9.3, LEG);
          icons(ctx, 126, 9.3, 2);
          text(ctx, `O ${SPX_O[LAST].toFixed(1)}  H ${SPX_H[LAST].toFixed(1)}  L ${SPX_L[LAST].toFixed(1)}  C ${SPX_C[LAST].toFixed(1)}`, 142, 9.3, LEG, 4.5);
          text(ctx, "Vol (20) \u25BE", 3, 17.7, LEG);
          icons(ctx, 27, 17.7, 3);
          text(ctx, "n/a    n/a", 48, 17.7, LEG, 4.5);
          text(ctx, "MP \u25BE", 3, 24.3, LEG);
          icons(ctx, 17, 24.3, 3);
          text(ctx, "VX:INDEX:CBOE \u25BE", 3, 31, "#3b6a98", 4.8);
          icons(ctx, 43, 31, 3);
          [VIX_O[LAST], VIX_H[LAST], VIX_L[LAST], VIX_C[LAST]].forEach((v, k) => text(ctx, v.toFixed(2), 66 + k * 13.5, 31, "#d9c98c", 4.6));
          icons(ctx, 447, 7, 2);
          box(ctx, c.scales.y.getPixelForValue(SPX_C[LAST]), SPX_C[LAST].toFixed(1), "#19d6ee", "#08244f");
          ctx.restore();
        },
      },
    ],
  };
}

function macdConfig(): any {
  return {
    type: "bar",
    data: {
      datasets: [
        { type: "line", data: pts(SIG_X, SIG_V), borderColor: PURPLE, borderWidth: 1.1, pointRadius: 0, tension: 0.35, yAxisID: "y", order: 1 },
        { type: "line", data: pts(MACD_X, MACD_V), borderColor: CYAN, borderWidth: 1.2, pointRadius: 0, tension: 0.35, yAxisID: "y", order: 0 },
        { data: IDX.map((i) => ({ x: i, y: HIST[i] })), backgroundColor: "rgba(35,185,210,0.7)", barThickness: 1, grouped: false, borderWidth: 0, yAxisID: "y", order: 2 },
      ],
    },
    options: baseOptions({ x: xHidden, y: yAxis(-35.1, 28.6, MACD_TICKS, (v) => v.toFixed(4), GRID) }),
    plugins: [
      {
        id: "macdDeco",
        beforeDraw: (c: any) => fillBg(c, SUB_BG),
        afterDraw: (c: any) => {
          const ctx = c.ctx;
          const ys = c.scales.y;
          ctx.save();
          topLine(c);
          const h = HIST[LAST], m = MACD_V[MACD_V.length - 1], s = SIG_V[SIG_V.length - 1];
          text(ctx, "MACD (12, 26, close, 9, false, true) \u25BE", 3, 6, LEG);
          icons(ctx, 76, 6, 3);
          text(ctx, h.toFixed(4), 97, 6, LEG, 4.8);
          text(ctx, m.toFixed(4), 115, 6, "#8fd6ee", 4.8);
          text(ctx, s.toFixed(4), 132, 6, "#a445e6", 4.8);
          icons(ctx, 447, 4.5, 2);
          box(ctx, ys.getPixelForValue(s) + 1, s.toFixed(4), "#d61fd6", "#ffffff");
          box(ctx, ys.getPixelForValue(m) + 1.5, m.toFixed(4), "#19d6ee", "#08244f");
          box(ctx, ys.getPixelForValue(h) + 1.5, h.toFixed(4), "#7ff0ff", "#08244f");
          ctx.restore();
        },
      },
    ],
  };
}

function kstConfig(): any {
  const tickIdx = X_TICK_DATES.map((d) => DATES.indexOf(d));
  return {
    type: "line",
    data: {
      datasets: [
        { data: pts(KSIG_X, KSIG_V), borderColor: PURPLE, borderWidth: 1.1, pointRadius: 0, tension: 0.4, yAxisID: "y" },
        { data: pts(KST_X, KST_V), borderColor: CYAN, borderWidth: 1.1, pointRadius: 0, tension: 0.4, yAxisID: "y" },
      ],
    },
    options: baseOptions({
      x: {
        type: "linear",
        min: X_MIN,
        max: X_MAX,
        position: "bottom",
        offset: false,
        afterFit: (s: any) => {
          s.height = 7;
          s.paddingLeft = 0;
          s.paddingRight = 0;
        },
        afterBuildTicks: (s: any) => {
          s.ticks = tickIdx.map((v) => ({ value: v }));
        },
        ticks: { color: TICK, font: { family: FONT, size: 5 }, padding: 1, autoSkip: false, maxRotation: 0, minRotation: 0, callback: (_v: any, i: number) => X_TICK_LABELS[i] },
        grid: { display: false, drawTicks: false },
        border: { display: true, color: SEP },
      },
      y: yAxis(-49.4, 49.4, KST_TICKS, (v) => v.toFixed(4), "rgba(70,130,200,0.10)"),
    }),
    plugins: [
      {
        id: "kstDeco",
        beforeDraw: (c: any) => fillBg(c, SUB_BG),
        beforeDatasetsDraw: (c: any) => {
          const { ctx, chartArea: a, scales } = c;
          ctx.save();
          ctx.strokeStyle = "rgba(120,160,245,0.85)";
          ctx.setLineDash([1, 1.5]);
          ctx.lineWidth = 1;
          const y = Math.round(scales.y.getPixelForValue(0)) + 0.5;
          ctx.beginPath();
          ctx.moveTo(a.left, y);
          ctx.lineTo(a.right, y);
          ctx.stroke();
          ctx.restore();
        },
        afterDraw: (c: any) => {
          const ctx = c.ctx;
          const ys = c.scales.y;
          ctx.save();
          topLine(c);
          const k = KST_V[KST_V.length - 1], s = KSIG_V[KSIG_V.length - 1];
          text(ctx, "KST (10, 15, 20, 30, 10, 10, 10, 15, 9) \u25BE", 3, 6, LEG);
          icons(ctx, 78, 6, 3);
          text(ctx, k.toFixed(4), 100, 6, LEG, 4.8);
          text(ctx, s.toFixed(4), 117, 6, "#a445e6", 4.8);
          icons(ctx, 453, 4.5, 1);
          box(ctx, ys.getPixelForValue(s) - 4.5, s.toFixed(4), "#9b32e6", "#ffffff");
          box(ctx, ys.getPixelForValue(k) + 1.5, k.toFixed(4), "#19d6ee", "#08244f");
          // EXANTE logo
          ctx.fillStyle = "rgba(150,160,178,0.72)";
          ctx.fillRect(2, 23, 45, 14);
          ctx.font = `5.5px ${FONT}`;
          ctx.fillStyle = "rgba(235,238,242,0.9)";
          ctx.textAlign = "center";
          ctx.textBaseline = "middle";
          ctx.fillText("E  X  A  N  T  E", 24.5, 30.5);
          // zoom buttons
          const glyphs = ["\u2039", "\u2212", "\u25CB", "+", "\u203A"];
          [222, 231, 240, 249, 258].forEach((x, n) => {
            ctx.fillStyle = "rgba(105,115,132,0.85)";
            ctx.beginPath();
            ctx.arc(x, 32, 3.4, 0, Math.PI * 2);
            ctx.fill();
            ctx.fillStyle = "rgba(220,225,232,0.9)";
            ctx.font = `4.5px ${FONT}`;
            ctx.fillText(glyphs[n], x, 32.2);
          });
          ctx.restore();
        },
      },
    ],
  };
}

export default function App() {
  const rsiRef = useRef<HTMLCanvasElement>(null);
  const mainRef = useRef<HTMLCanvasElement>(null);
  const macdRef = useRef<HTMLCanvasElement>(null);
  const kstRef = useRef<HTMLCanvasElement>(null);

  useEffect(() => {
    const charts = [
      new Chart(rsiRef.current as any, rsiConfig()),
      new Chart(mainRef.current as any, mainConfig()),
      new Chart(macdRef.current as any, macdConfig()),
      new Chart(kstRef.current as any, kstConfig()),
    ];
    return () => charts.forEach((c) => c.destroy());
  }, []);

  const cs = (top: number, h: number): any => ({ position: "absolute", left: 0, top, width: 480, height: h, display: "block" });
  return (
    <div style={{ position: "fixed", left: 0, top: 0, width: 480, height: 424, background: PAGE_BG, overflow: "hidden" }}>
      <canvas ref={rsiRef} width={480} height={53} style={cs(0, 53)} />
      <canvas ref={mainRef} width={480} height={266} style={cs(53, 266)} />
      <canvas ref={macdRef} width={480} height={59} style={cs(319, 59)} />
      <canvas ref={kstRef} width={480} height={46} style={cs(378, 46)} />
    </div>
  );
}
